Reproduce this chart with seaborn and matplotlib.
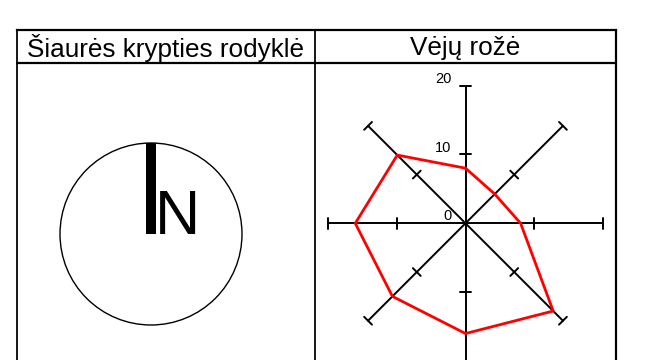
import numpy as np
import pandas as pd
import matplotlib
matplotlib.use("Agg")
import matplotlib.pyplot as plt
from matplotlib.patches import Circle, Rectangle
import seaborn as sns

# ---- data ----
headers = ["Šiaurės krypties rodyklė", "Vėjų rožė"]
directions = ["N", "NE", "E", "SE", "S", "SW", "W", "NW"]
angles_deg = [0, 45, 90, 135, 180, 225, 270, 315]
speeds = [8, 6, 8, 18, 16, 15, 16, 14]
tick_values = [0, 10, 20]
tick_labels = ["0", "10", "20"]
axis_max = 20
north_label = "N"

sns.set_theme(style="white")
plt.rcParams["font.family"] = ["Liberation Sans", "DejaVu Sans"]

W, H = 669, 360
fig = plt.figure(figsize=(W / 100, H / 100), dpi=100)
fig.patch.set_facecolor("white")

# background pixel axes for table + compass
bg = fig.add_axes([0, 0, 1, 1])
bg.set_xlim(0, W)
bg.set_ylim(H, 0)
bg.axis("off")

# table
left, right, top, hline, mid, bottom = 16.5, 615.5, 30, 63.3, 315, 400
lwt = 1.6
bg.plot([left, right], [top, top], color="black", lw=lwt, solid_capstyle="projecting")
bg.plot([left, right], [hline, hline], color="black", lw=lwt)
bg.plot([left, left], [top, bottom], color="black", lw=lwt * 0.8)
bg.plot([right, right], [top, bottom], color="black", lw=lwt)
bg.plot([mid, mid], [top, bottom], color="black", lw=lwt * 0.8)
bg.text((left + mid) / 2, (top + hline) / 2 + 1, headers[0], ha="center", va="center",
        fontsize=18.8, color="black")
bg.text((mid + right) / 2, (top + hline) / 2 + 1, headers[1], ha="center", va="center",
        fontsize=18.8, color="black")

# compass
cx, cy, cr = 151, 234, 91
bg.add_patch(Circle((cx, cy), cr, fill=False, ec="black", lw=1.0))
bg.add_patch(Rectangle((146, 143), 10, cy - 143, fc="black", ec="none"))
bg.text(154.5, cy, north_label, ha="left", va="baseline", fontsize=45, color="black")

# wind rose axes
scale = 6.89          # px per unit
half = 25             # units shown each side
ccx, ccy = 465.5, H - 223.3
hw = half * scale
rose = fig.add_axes([(ccx - hw) / W, (ccy - hw) / H, 2 * hw / W, 2 * hw / H])
rose.set_xlim(-half, half)
rose.set_ylim(-half, half)
rose.axis("off")
rose.patch.set_alpha(0)

tick_half = 0.8
for a in angles_deg[:4]:
    t = np.deg2rad(a)
    ux, uy = np.sin(t), np.cos(t)
    px, py = -uy, ux
    rose.plot([-axis_max * ux, axis_max * ux], [-axis_max * uy, axis_max * uy],
              color="black", lw=1.4)
    for v in tick_values[1:]:
        for s in (1, -1):
            mx, my = s * v * ux, s * v * uy
            rose.plot([mx - tick_half * px, mx + tick_half * px],
                      [my - tick_half * py, my + tick_half * py], color="black", lw=1.4)

for v, lab in zip(tick_values, tick_labels):
    rose.text(-2.0, v + 1.0, lab, ha="right", va="center", fontsize=10.5, color="black")

th = np.deg2rad(angles_deg)
df = pd.DataFrame({"direction": directions, "x": np.array(speeds) * np.sin(th),
                   "y": np.array(speeds) * np.cos(th)})
df = pd.concat([df, df.iloc[[0]]], ignore_index=True)
sns.lineplot(data=df, x="x", y="y", sort=False, estimator=None, color="red",
             lw=2.0, ax=rose)
rose.set_xlabel("")
rose.set_ylabel("")

fig.savefig("out.png", dpi=100, facecolor="white")
